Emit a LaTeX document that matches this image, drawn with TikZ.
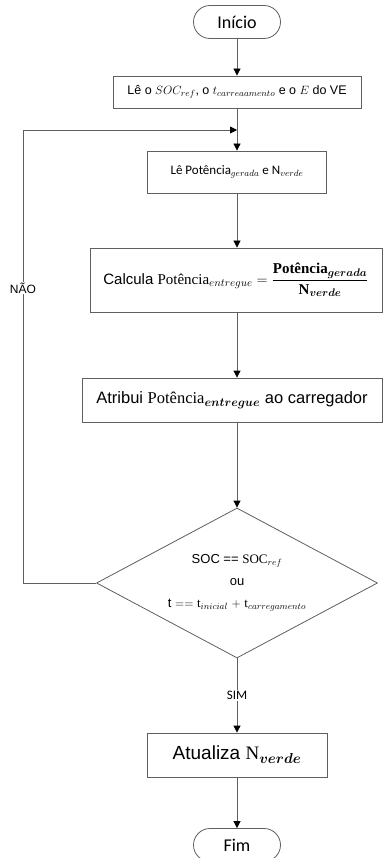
\documentclass[tikz,border=0pt]{standalone}
\usepackage{fontspec}
\usepackage{amsmath,bm}
\usetikzlibrary{arrows.meta,shapes.geometric}
\newfontfamily\arial{Liberation Sans}
\newfontfamily\calibri{Carlito}
\newfontfamily\cambria{Liberation Serif}
\definecolor{LineGray}{HTML}{5F5F5F}
\newcommand{\fsz}[1]{\fontsize{#1}{#1}\selectfont}
\newcommand{\up}[1]{\text{\cambria #1}}
\newcommand{\upbf}[1]{\text{\cambria\bfseries #1}}

\begin{document}
\begin{tikzpicture}[x=1pt, y=-1pt,
  proc/.style={draw=LineGray, line width=0.8pt, fill=white, inner sep=0pt, align=center, font=\arial\fsz{12.5}},
  term/.style={proc, rounded corners=16.5pt, minimum width=87pt, minimum height=33pt, font=\calibri\fsz{18}},
  decide/.style={proc, diamond, aspect=1.9, minimum width=281pt, minimum height=150pt, font=\arial\fsz{13}},
  flow/.style={draw=LineGray, line width=0.8pt, -{Triangle[length=7pt, width=7pt, color=black]}},
  tag/.style={fill=white, inner sep=1pt}
]
\path[use as bounding box, clip] (0,0) rectangle (383,858);

\node[term] (inicio) at (237,22) {Início};
\node[proc, minimum width=248pt, minimum height=32pt] (leref) at (237,92)
  {Lê o $SOC_{ref}$, o $t_{carreaamento}$ e o $E$ do VE};
\node[proc, minimum width=179pt, minimum height=42pt, font=\calibri\fsz{13}] (lepot) at (237,172)
  {Lê Potência$_{gerada}$ e N$_{verde}$};
\node[proc, minimum width=292pt, minimum height=64pt, font=\arial\fsz{15}] (calcula) at (236,280)
  {Calcula $\up{Potência}_{entregue} = \dfrac{\upbf{Potência}_{\bm{gerada}}}{\upbf{N}_{\bm{verde}}}$};
\node[proc, minimum width=300pt, minimum height=44pt, font=\arial\fsz{16.5}] (atribui) at (232,400)
  {Atribui $\up{Potência}_{\bm{entregue}}$ ao carregador};
\node[decide] (teste) at (237,583)
  {SOC == $\up{SOC}_{ref}$\\[9pt] ou\\[9pt] t $==$ $\up{t}_{inicial}$ $+$ $\up{t}_{carregamento}$};
\node[proc, minimum width=180pt, minimum height=44pt, font=\arial\fsz{19}] (atualiza) at (237,755)
  {Atualiza $\up{N}_{\bm{verde}}$};
\node[term] (fim) at (237,845) {Fim};

\coordinate (volta) at (23,130);
\coordinate (junta) at (237,130);

\draw[flow] (inicio) -- (leref);
\draw[flow] (leref) -- (lepot);
\draw[flow] (lepot) -- (lepot |- calcula.north);
\draw[flow] (lepot |- calcula.south) -- (lepot |- atribui.north);
\draw[flow] (lepot |- atribui.south) -- (teste);
\draw[flow] (teste.west) -- (teste.west -| volta) -- (volta) -- (junta);
\draw[flow] (teste) -- node[tag, font=\calibri\fsz{13}] {SIM} (atualiza);
\draw[flow] (atualiza) -- (fim);

\node[tag, font=\arial\fsz{12}] (nao) at (23,288) {NÃO};
\end{tikzpicture}
\end{document}
